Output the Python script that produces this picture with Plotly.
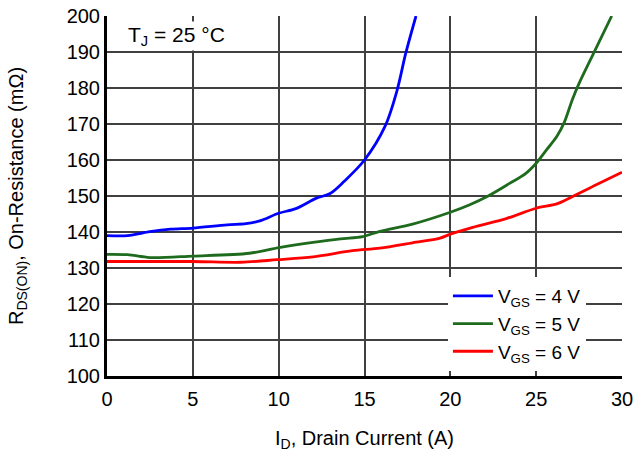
import plotly.graph_objects as go

# V_GS = 4 V
x4 = [0, 1.2, 2.5, 3.7, 5.0, 7.0, 8.1, 8.9, 10.0, 11.0, 12.2, 13.0, 13.8, 15.0, 16.2, 16.9, 17.4, 18.0]
y4 = [139.0, 139.0, 140.1, 140.8, 141.1, 142.0, 142.3, 143.1, 145.2, 146.5, 149.4, 150.7, 154.0, 160.0, 169.4, 179.4, 189.6, 200.0]
# V_GS = 5 V
x5 = [0, 1.2, 2.5, 5.0, 8.3, 10.1, 12.0, 13.6, 14.9, 15.9, 17.8, 20.0, 21.1, 22.2, 23.45, 24.4, 25.0, 25.6, 26.2, 26.65, 27.1, 27.5, 28.3, 29.4]
y5 = [133.8, 133.7, 132.9, 133.3, 134.1, 135.7, 137.1, 138.1, 138.7, 140.2, 142.2, 145.5, 147.5, 150.0, 153.5, 156.3, 159.1, 162.8, 166.5, 170.6, 176.7, 181.3, 189.2, 200.0]
# V_GS = 6 V
x6 = [0, 5.0, 7.8, 9.9, 12.0, 14.3, 15.9, 17.8, 19.4, 20.0, 21.3, 23.3, 25.0, 26.2, 27.1, 28.5, 30.0]
y6 = [131.8, 131.8, 131.6, 132.3, 133.1, 134.8, 135.5, 137.0, 138.3, 139.4, 141.3, 143.8, 146.6, 147.8, 149.8, 153.1, 156.6]

names = ["V<sub>GS</sub> = 4 V", "V<sub>GS</sub> = 5 V", "V<sub>GS</sub> = 6 V"]
colors = ["#0000ff", "#1e6b1e", "#ff0000"]

x_ticks = [0, 5, 10, 15, 20, 25, 30]
y_ticks = [100, 110, 120, 130, 140, 150, 160, 170, 180, 190, 200]

fig = go.Figure()
for xs, ys, nm, c in zip([x4, x5, x6], [y4, y5, y6], names, colors):
    fig.add_trace(go.Scatter(x=xs, y=ys, mode="lines", name=nm,
                             line=dict(color=c, width=2.8, shape="spline", smoothing=0.9)))

font = "Liberation Sans, Arial, sans-serif"
fig.update_layout(
    width=634, height=453,
    margin=dict(l=107, r=12, t=16, b=77),
    paper_bgcolor="white", plot_bgcolor="white",
    font=dict(family=font, size=20, color="black"),
    showlegend=True,
    legend=dict(x=0.662, y=0.275, xanchor="left", yanchor="top",
                bgcolor="white", borderwidth=0,
                font=dict(size=19, family=font), tracegroupgap=0,
                itemwidth=40),
    xaxis=dict(range=[0, 30], tickvals=x_ticks, showgrid=True, gridcolor="#404040",
               gridwidth=1.5, showline=True, linecolor="black", linewidth=3,
               ticks="", zeroline=False, mirror=False, automargin=False,
               tickfont=dict(size=20), ticklabelstandoff=3, ticklabeloverflow="allow",
               title=dict(text="I<sub>D</sub>, Drain Current (A)", font=dict(size=20), standoff=22)),
    yaxis=dict(range=[100, 200], tickvals=y_ticks, showgrid=True, gridcolor="#404040",
               gridwidth=1.5, showline=True, linecolor="black", linewidth=3,
               ticks="", zeroline=False, automargin=False,
               tickfont=dict(size=20), ticklabeloverflow="allow",
               title=dict(text="R<sub>DS(ON)</sub>, On-Resistance (mΩ)", font=dict(size=20), standoff=38)),
)
fig.add_annotation(x=0.036, y=0.985, xref="paper", yref="paper", xanchor="left", yanchor="top",
                   text="T<sub>J</sub> = 25 °C", showarrow=False, font=dict(size=21, family=font),
                   bgcolor="white")
fig.write_html("out.html", config={"displayModeBar": False},
               post_script="document.body.style.margin='0px';")
